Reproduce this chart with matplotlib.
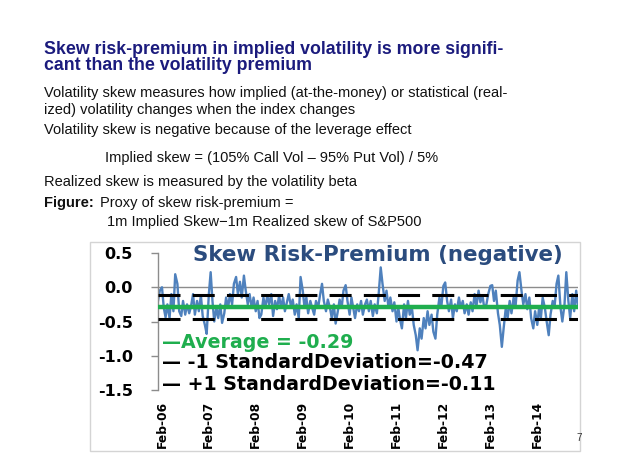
import matplotlib
matplotlib.use("Agg")
import matplotlib.pyplot as plt
import matplotlib.patches as mpatches
import numpy as np
import pandas as pd

# ---------------- data ----------------
start_date = "2006-01-01"   # semi-monthly observations
skew_premium = [
    # 2006
    -0.20, -0.05, 0.00, -0.30, -0.44, -0.25, -0.45, -0.10, -0.35, 0.19, 0.05, -0.35,
    -0.42, -0.20, -0.40, -0.25, -0.38, -0.28, -0.10, -0.40, -0.20, -0.35, -0.12, -0.42,
    # 2007
    -0.55, -0.68, -0.10, 0.22, -0.20, -0.50, -0.30, -0.45, -0.25, -0.52, -0.38, -0.15,
    -0.30, -0.10, -0.25, 0.05, 0.15, -0.10, 0.08, -0.15, 0.17, -0.05, -0.25, -0.10,
    # 2008
    -0.30, -0.15, -0.35, -0.20, -0.45, -0.40, -0.15, -0.30, -0.12, -0.25, -0.10, -0.42,
    -0.20, -0.32, -0.12, -0.30, -0.15, -0.35, -0.22, -0.10, -0.28, -0.18, -0.40, -0.25,
    # 2009
    -0.45, 0.15, -0.05, -0.30, -0.15, -0.38, -0.20, -0.30, -0.40, -0.20, -0.30, -0.12,
    0.05, -0.20, -0.35, -0.18, -0.30, -0.45, -0.25, -0.53, -0.35, -0.18, -0.30, -0.05,
    # 2010
    0.03, -0.20, -0.40, -0.15, -0.30, -0.45, -0.25, -0.35, -0.20, -0.40, -0.25, -0.18,
    -0.35, -0.20, -0.42, -0.25, -0.38, -0.10, 0.29, 0.05, -0.20, -0.05, -0.30, -0.15,
    # 2011
    -0.35, -0.22, -0.50, -0.30, -0.48, -0.60, -0.25, -0.45, -0.20, -0.40, -0.30, -0.55,
    -0.70, -0.92, -0.60, -0.75, -0.45, -0.60, -0.35, -0.55, -0.40, -0.65, -0.75, -0.40,
    # 2012
    -0.15, -0.30, 0.02, 0.07, -0.20, -0.35, -0.18, -0.45, -0.25, -0.35, -0.15, -0.30,
    -0.20, -0.38, -0.25, -0.40, -0.22, -0.35, -0.10, -0.28, -0.05, -0.22, -0.12, -0.30,
    # 2013
    -0.25, -0.10, 0.02, 0.03, -0.20, -0.05, -0.38, -0.55, -0.87, -0.60, -0.30, -0.45,
    -0.20, -0.38, -0.15, -0.30, 0.10, 0.22, -0.05, -0.25, -0.10, -0.32, -0.15, -0.45,
    # 2014
    -0.60, -0.35, -0.55, -0.30, -0.45, -0.15, -0.30, -0.50, -0.70, -0.40, -0.20, -0.30,
    0.05, 0.17, -0.30, -0.50, -0.25, 0.22, -0.20, -0.45, -0.10, -0.35, -0.05, -0.30,
]
average = -0.29
minus_1sd = -0.47
plus_1sd = -0.11
tick_dates = ["2006-02-01", "2007-02-01", "2008-02-01", "2009-02-01", "2010-02-01",
              "2011-02-01", "2012-02-01", "2013-02-01", "2014-02-01"]
tick_labels = ["Feb-06", "Feb-07", "Feb-08", "Feb-09", "Feb-10",
               "Feb-11", "Feb-12", "Feb-13", "Feb-14"]
y_ticks = [0.5, 0.0, -0.5, -1.0, -1.5]
y_tick_labels = ["0.5", "0.0", "-0.5", "-1.0", "-1.5"]

chart_title = "Skew Risk-Premium (negative)"
legend_avg = "\u2014Average = -0.29"
legend_m1 = "\u2014 -1 StandardDeviation=-0.47"
legend_p1 = "\u2014 +1 StandardDeviation=-0.11"

slide_title = ["Skew risk-premium in implied volatility is more signifi-",
               "cant than the volatility premium"]
body = [
    "Volatility skew measures how implied (at-the-money) or statistical (real-",
    "ized) volatility changes when the index changes",
    "Volatility skew is negative because of the leverage effect",
]
formula = "Implied skew = (105% Call Vol \u2013 95% Put Vol) / 5%"
realized = "Realized skew is measured by the volatility beta"
fig_label = "Figure:"
fig_caption1 = "Proxy of skew risk-premium ="
fig_caption2 = "1m Implied Skew\u22121m Realized skew of S&P500"

# ---------------- figure ----------------
W, H = 640, 453
fig = plt.figure(figsize=(W / 100, H / 100), dpi=100)
fig.patch.set_facecolor("white")
renderer = fig.canvas.get_renderer()


def fx(px):
    return px / W


def fy(py):
    return 1 - py / H


def fit(t, width_px):
    bb = t.get_window_extent(renderer)
    t.set_fontsize(t.get_fontsize() * width_px / bb.width)
    return t.get_fontsize()


body_font = "Liberation Sans"
navy = "#1b1b7d"

# slide title
t1 = fig.text(fx(44), fy(50), slide_title[0], fontsize=14, family=body_font,
              weight="bold", color=navy, va="center", ha="left")
ts = fit(t1, 458)
fig.text(fx(44), fy(66), slide_title[1], fontsize=ts, family=body_font,
         weight="bold", color=navy, va="center", ha="left")

# body text
b1 = fig.text(fx(44), fy(93), body[0], fontsize=11, family=body_font,
              color="#111111", va="center", ha="left")
bs = fit(b1, 459)
fig.text(fx(44), fy(110), body[1], fontsize=bs, family=body_font,
         color="#111111", va="center", ha="left")
fig.text(fx(44), fy(130), body[2], fontsize=bs, family=body_font,
         color="#111111", va="center", ha="left")
fig.text(fx(105), fy(158), formula, fontsize=bs, family=body_font,
         color="#111111", va="center", ha="left")
fig.text(fx(44), fy(182), realized, fontsize=bs, family=body_font,
         color="#111111", va="center", ha="left")
fig.text(fx(44), fy(203), fig_label, fontsize=bs, family=body_font,
         weight="bold", color="#111111", va="center", ha="left")
fig.text(fx(100), fy(203), fig_caption1, fontsize=bs, family=body_font,
         color="#111111", va="center", ha="left")
fig.text(fx(107), fy(222), fig_caption2, fontsize=bs, family=body_font,
         color="#111111", va="center", ha="left")

# chart frame
frame = mpatches.Rectangle((fx(90), fy(451)), fx(490), 209 / H,
                           transform=fig.transFigure, fill=False,
                           edgecolor="#d4d4d4", linewidth=1.0)
fig.patches.append(frame)

# axes
ax = fig.add_axes([fx(158), fy(390), fx(420), (390 - 253) / H])
ax.set_facecolor("none")

dates = pd.date_range(start_date, periods=len(skew_premium), freq="SMS")
values = np.array(skew_premium)

ax.plot(dates, values, color="#4f81bd", linewidth=1.7, zorder=2,
        solid_joinstyle="round")
ax.axhline(0.0, color="#8c8c8c", linewidth=1.0, zorder=1)
ax.axhline(average, color="#1fae4e", linewidth=3.2, zorder=4)
ax.axhline(plus_1sd, color="black", linewidth=2.2, zorder=3,
           linestyle=(0, (7.2, 4.0)))
ax.axhline(minus_1sd, color="black", linewidth=2.2, zorder=3,
           linestyle=(0, (7.2, 4.0)))

ax.set_xlim(dates[0], dates[-1])
ax.set_ylim(-1.5, 0.5)

ax.set_yticks(y_ticks)
ax.set_yticklabels(y_tick_labels, fontsize=11.5, weight="bold",
                   family="DejaVu Sans")
ax.tick_params(axis="y", direction="out", length=5, width=1,
               color="#8c8c8c", pad=13)

ax.set_xticks(pd.to_datetime(tick_dates))
ax.set_xticklabels(tick_labels, rotation=90, fontsize=8.8, weight="bold",
                   family="DejaVu Sans")
ax.tick_params(axis="x", length=0, pad=8)

for side in ["top", "right", "bottom"]:
    ax.spines[side].set_visible(False)
ax.spines["left"].set_color("#8c8c8c")
ax.spines["left"].set_linewidth(1.0)

# chart title and legend texts
ct = fig.text(fx(193), fy(255), chart_title, fontsize=13, weight="bold",
              family="DejaVu Sans", color="#2b4c7e", va="center", ha="left")
fit(ct, 369)
la = fig.text(fx(162), fy(343), legend_avg, fontsize=12, weight="bold",
              family="DejaVu Sans", color="#1fae4e", va="center", ha="left")
lm = fig.text(fx(162), fy(363), legend_m1, fontsize=12, weight="bold",
              family="DejaVu Sans", color="black", va="center", ha="left")
ls = fit(lm, 323)
la.set_fontsize(ls)
fig.text(fx(162), fy(384), legend_p1, fontsize=ls, weight="bold",
         family="DejaVu Sans", color="black", va="center", ha="left")

# page number
fig.text(fx(579), fy(438), "7", fontsize=7, family=body_font,
         color="#333333", va="center", ha="center")

fig.savefig("out.png", dpi=100, facecolor="white")
